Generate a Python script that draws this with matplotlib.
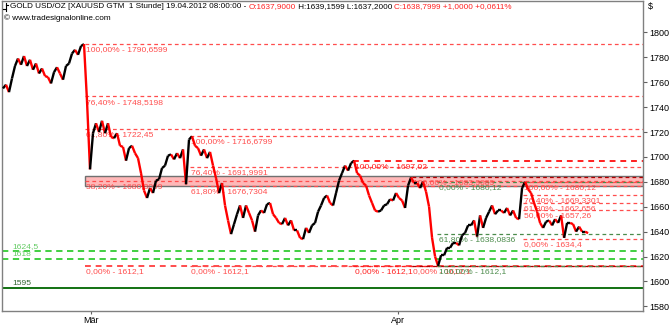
import matplotlib
matplotlib.use('Agg')
import matplotlib.pyplot as plt
from matplotlib.collections import LineCollection
from matplotlib.patches import Rectangle

plt.rcParams['font.family'] = ['Liberation Sans', 'DejaVu Sans']

# ---------------- data ----------------
close = [1755, 1758, 1752, 1763, 1773, 1779, 1774, 1781, 1773, 1778,
         1770, 1775, 1767, 1771, 1765, 1764, 1759, 1768, 1772, 1767,
         1762, 1773, 1775, 1783, 1786, 1782, 1789, 1790.6, 1745, 1690,
         1719, 1727, 1720, 1729, 1719, 1727, 1716, 1715, 1719, 1709,
         1708, 1697, 1707, 1709, 1703, 1699, 1687, 1673, 1667, 1675,
         1671, 1681, 1682, 1691, 1693, 1701, 1702, 1698, 1703, 1699,
         1706, 1678, 1714, 1716.5, 1709, 1707, 1701, 1706, 1699, 1704,
         1693, 1683, 1671, 1679, 1661, 1649, 1638, 1646, 1654, 1661,
         1651, 1661, 1655, 1649, 1640, 1653, 1657, 1655, 1662, 1663,
         1654, 1651, 1647, 1646, 1651, 1645, 1649, 1641, 1641, 1635,
         1634, 1643, 1639, 1645, 1647, 1656, 1661, 1667, 1669, 1663,
         1661, 1671, 1681, 1687, 1693, 1689, 1695, 1697, 1687, 1685,
         1679, 1677, 1669, 1663, 1657, 1656, 1657, 1661, 1662, 1666,
         1665, 1671, 1667, 1665, 1659, 1677, 1683.5, 1679, 1679, 1675,
         1680, 1672, 1660, 1635, 1620, 1612.5, 1621, 1621, 1627, 1627,
         1631, 1631, 1629, 1637, 1639, 1645, 1645, 1649, 1636, 1653,
         1643, 1651, 1656, 1661, 1654, 1657, 1657, 1655, 1659, 1653,
         1657, 1651, 1650, 1675, 1680, 1674, 1671, 1663, 1656, 1647,
         1643, 1648, 1649, 1645, 1650, 1647, 1653, 1635, 1647, 1647,
         1646, 1640, 1644, 1640, 1640, 1638.8]

month_labels = ['Mär', 'Apr']
month_pos = [29.3, 131.7]

y_ticks = [1580, 1600, 1620, 1640, 1660, 1680, 1700, 1720, 1740, 1760, 1780, 1800]

# fib groups: [(price, label)]
fib_a = [(1790.6599, '100,00% - 1790,6599'), (1748.5198, '76,40% - 1748,5198'),
         (1722.45, '61,80% - 1722,45'), (1680.3099, '38,20% - 1680,3099'),
         (1612.1, '0,00% - 1612,1')]
fib_b = [(1716.6799, '100,00% - 1716,6799'), (1691.9991, '76,40% - 1691,9991'),
         (1676.7304, '61,80% - 1676,7304'), (1612.1, '0,00% - 1612,1')]
fib_c = [(1697.02, '100,00% - 1697,02'), (1612.1, '0,00% - 1612,1')]
fib_d = [(1683.9689, '100,00% - 1683,9689'), (1612.1, '0,00% - 1612,1')]
fib_e = [(1680.12, '0,00% - 1680,12'), (1638.0836, '61,80% - 1638,0836'),
         (1612.1, '100,00% - 1612,1')]
fib_f = [(1680.12, '100,00% - 1680,12'), (1669.3301, '76,40% - 1669,3301'),
         (1662.656, '61,80% - 1662,656'), (1657.26, '50,00% - 1657,26'),
         (1634.4, '0,00% - 1634,4')]

zone_low, zone_high = 1676.6, 1684.6
support_levels = [(1624.5, '1624,5'), (1618, '1618')]
base_level = (1595, '1595')

# ---------------- figure ----------------
W, H = 670, 326
FS = 5.9
LFS = 6.1
fig = plt.figure(figsize=(W / 100, H / 100), dpi=100)
ax_left, ax_right, ax_top, ax_bottom = 2, 643, 1, 310.7
ax = fig.add_axes([ax_left / W, (H - ax_bottom) / H,
                   (ax_right - ax_left) / W, (ax_bottom - ax_top) / H])

xmin, xmax = -0.33, 213.3
ax.set_xlim(xmin, xmax)
ax.set_ylim(1576.5, 1825.2)

RED = '#ff4d4d'
DARKRED = '#b00000'
GREEN = '#33cc33'
OLIVE = '#4b8b4b'

# zone rectangle
ax.add_patch(Rectangle((27.3, zone_low), xmax - 27.3, zone_high - zone_low,
                       facecolor='#ffb8b8', edgecolor='#707070', lw=1.0, zorder=1))

def fib(group, start, color, lw=0.9, txtcolor=None, bold_levels=()):
    for p, lab in group:
        w = 1.4 if p in bold_levels else lw
        ax.plot([start, xmax], [p, p], color=color, lw=w, ls=(0, (3, 2.5)), zorder=2)
        ax.annotate(lab, (start, p), xytext=(1, -1.5), textcoords='offset points',
                    ha='left', va='top', fontsize=LFS, color=txtcolor or color, zorder=3)

fib(fib_a, 27.3, RED, bold_levels=(1612.1,))
fib(fib_b, 62.3, RED)
fib(fib_c, 116.7, '#ff2020', bold_levels=(1697.02,))
fib(fib_d, 136.3, DARKRED, txtcolor=RED)
fib(fib_e, 144.7, OLIVE)
fib(fib_f, 173.3, RED)

for p, lab in support_levels:
    ax.plot([xmin, xmax], [p, p], color=GREEN, lw=1.3, ls=(0, (3.5, 2.5)), zorder=2)
    ax.annotate(lab, (3, p), xytext=(0, 0.5), textcoords='offset points',
                ha='left', va='bottom', fontsize=LFS, color='#66cc66', zorder=3)
ax.axhline(base_level[0], color='#006600', lw=1.3, zorder=2)
ax.annotate(base_level[1], (3, base_level[0]), xytext=(0, 0.5), textcoords='offset points',
            ha='left', va='bottom', fontsize=LFS, color='#336633', zorder=3)

# price line: segments red when falling, black when rising
segs, cols = [], []
for i in range(len(close) - 1):
    segs.append([(i, close[i]), (i + 1, close[i + 1])])
    cols.append('#ff0000' if close[i + 1] < close[i] else '#000000')
ax.add_collection(LineCollection(segs, colors=cols, linewidths=1.7, zorder=5))

# axes styling
for s in ax.spines.values():
    s.set_color('#808080')
    s.set_linewidth(1.0)
ax.yaxis.tick_right()
ax.set_yticks(y_ticks)
ax.set_yticklabels([str(v) for v in y_ticks])
ax.tick_params(axis='y', direction='out', length=3, width=0.8, color='#606060',
               labelsize=FS + 0.6, pad=1.5)
ax.set_xticks(month_pos)
ax.set_xticklabels(month_labels)
ax.tick_params(axis='x', direction='out', length=2, width=0.8, color='#606060',
               labelsize=FS + 0.6, pad=1.5)

# header texts
fig.text(648 / W, 1 - 7 / H, '$', fontsize=FS + 0.6, va='center', ha='left')
fig.text(4 / W, 1 - 18 / H, '© www.tradesignalonline.com', fontsize=FS, va='center', ha='left')

parts = [('GOLD USD/OZ [XAUUSD GTM  1 Stunde] 19.04.2012 08:00:00 - ', 'black'),
         ('O:1637,9000', '#ff2020'),
         (' H:1639,1599 L:1637,2000 ', 'black'),
         ('C:1638,7999 +1,0000 +0,0611%', '#ff2020')]
fig.canvas.draw()
r = fig.canvas.get_renderer()
xpos = 10
for txt, c in parts:
    t = fig.text(xpos / W, 1 - 7 / H, txt, fontsize=FS, va='center', ha='left', color=c)
    bb = t.get_window_extent(renderer=r)
    xpos += bb.width
# small OHLC glyph
fig.add_artist(plt.Line2D([5.5 / W, 5.5 / W], [1 - 3 / H, 1 - 11 / H], color='black', lw=0.8))
fig.add_artist(plt.Line2D([3 / W, 5.5 / W], [1 - 9 / H, 1 - 9 / H], color='black', lw=0.8))
fig.add_artist(plt.Line2D([5.5 / W, 8 / W], [1 - 5 / H, 1 - 5 / H], color='black', lw=0.8))

fig.savefig('out.png', dpi=100)
